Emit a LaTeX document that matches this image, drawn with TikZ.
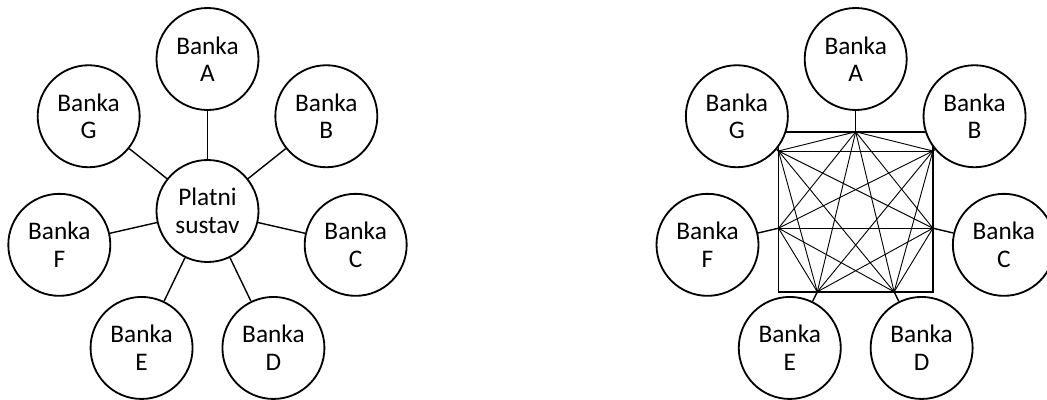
\documentclass[tikz,border=0pt]{standalone}
\usepackage{fontspec}
\setmainfont{Carlito}
\begin{document}
\begin{tikzpicture}[
        bank/.style={circle, draw, line width=1.3pt, fill=white, minimum size=2.55cm, inner sep=0pt,
                     align=center, font=\fontsize{18}{19.6}\selectfont},
        spoke/.style={line width=1pt},
        chord/.style={line width=0.65pt}]
    \useasboundingbox (-5.1875,-4.7) rectangle (20.9875,5.275);

    % left: all banks meet in the payment system
    \node [bank] (sustav) at (0,0) {Platni\\sustav};
    \foreach \b/\ang in {A/90, B/38.57, C/-12.86, D/-64.29, E/-115.71, F/-167.14, G/141.43}
        \node [bank] (l\b) at (\ang:3.8) {Banka\\\b};
    \foreach \b in {A,B,C,D,E,F,G}
        \draw [spoke] (sustav) -- (l\b);

    % right: every bank linked with every other
    \begin{scope}[shift={(16.205,0)}]
        \draw [line width=1.4pt] (-1.93,-2.02) rectangle (1.93,1.98);
        \coordinate (pA) at (0,1.98);
        \coordinate (pB) at (1.93,1.5);
        \coordinate (pC) at (1.93,-0.43);
        \coordinate (pD) at (0.96,-2.02);
        \coordinate (pE) at (-0.96,-2.02);
        \coordinate (pF) at (-1.93,-0.43);
        \coordinate (pG) at (-1.93,1.5);
        \foreach \b/\ang in {A/90, B/38.57, C/-12.86, D/-64.29, E/-115.71, F/-167.14, G/141.43}
            \node [bank] (r\b) at (\ang:3.8) {Banka\\\b};
        \foreach \b in {A,B,C,D,E,F,G}
            \draw [spoke] (r\b) -- (p\b);
        \foreach \p/\qs in {A/{B,C,D,E,F,G}, B/{C,D,E,F,G}, C/{D,E,F,G}, D/{E,F,G}, E/{F,G}, F/{G}}
            \foreach \q in \qs
                \draw [chord] (p\p) -- (p\q);
    \end{scope}
\end{tikzpicture}
\end{document}
